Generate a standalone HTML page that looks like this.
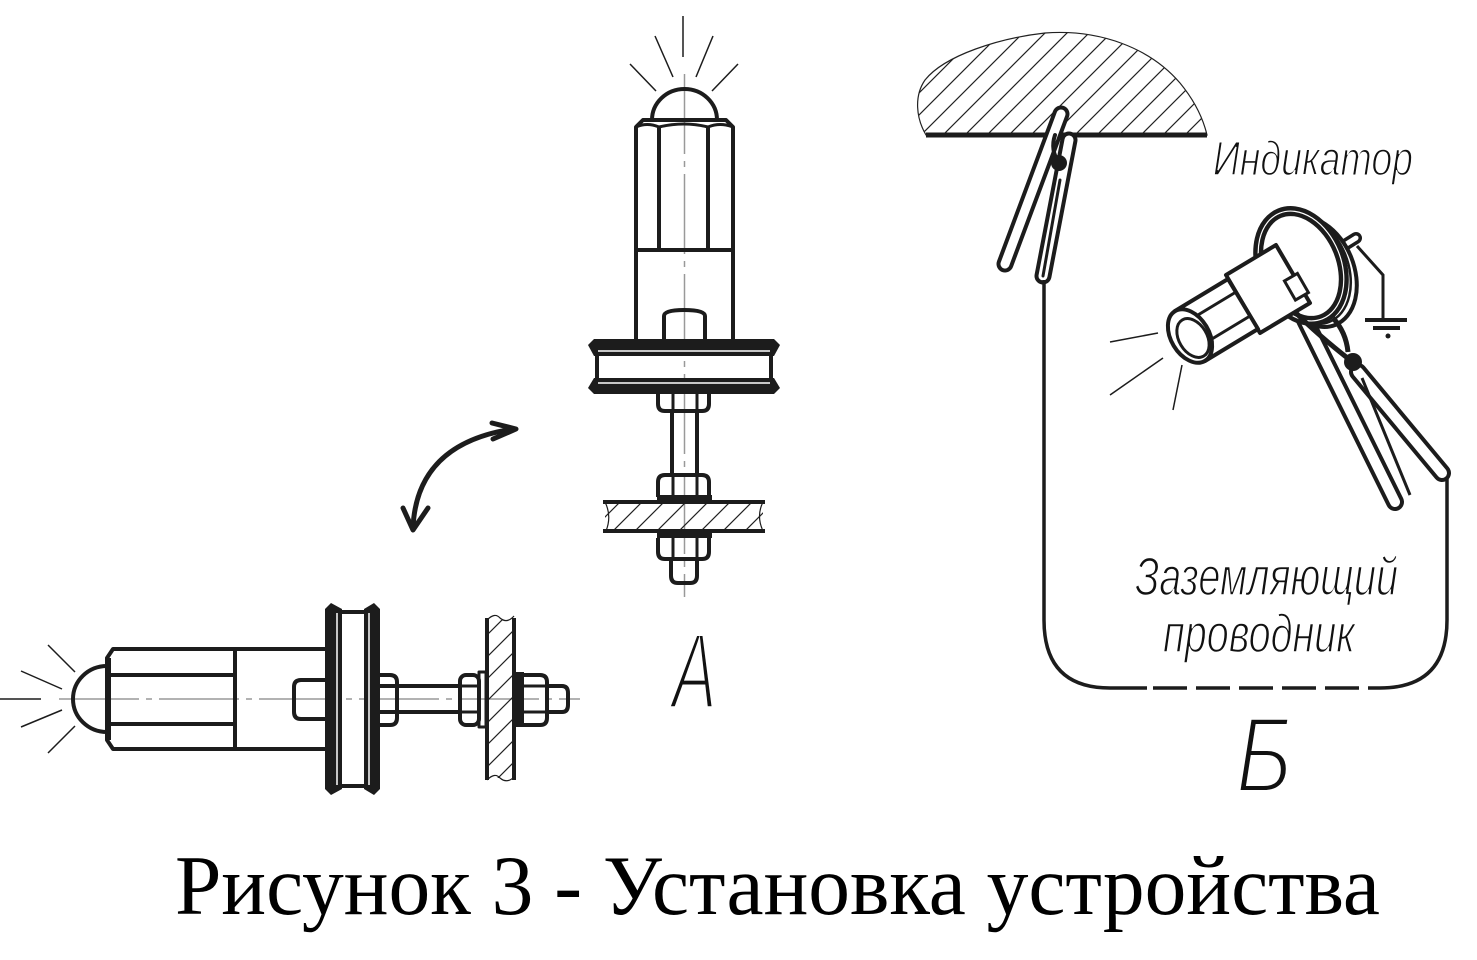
<!DOCTYPE html>
<html><head><meta charset="utf-8"><style>
html,body{margin:0;padding:0;background:#fff;}
svg{display:block;}
</style></head><body>
<svg xmlns="http://www.w3.org/2000/svg" width="1477" height="960" viewBox="0 0 1477 960">
<defs>
<pattern id="hat" patternUnits="userSpaceOnUse" width="22" height="22">
<path d="M-3,3 L3,-3 M0,22 L22,0 M19,25 L25,19" stroke="#222" stroke-width="1.2" fill="none"/>
</pattern>
</defs>
<rect width="1477" height="960" fill="#fff"/>

<!-- ================= VIEW A (vertical) ================= -->
<line x1="684.5" y1="74" x2="684.5" y2="597" stroke="#999" stroke-width="1.5" stroke-dasharray="80,7,6,7"/>
<g stroke="#1c1c1c" stroke-width="1.5">
<line x1="683" y1="16" x2="683" y2="57"/>
<line x1="655" y1="36" x2="673" y2="77"/>
<line x1="630" y1="64" x2="656" y2="91"/>
<line x1="713" y1="36" x2="696" y2="77"/>
<line x1="738" y1="64" x2="712" y2="91"/>
</g>
<g fill="none" stroke="#1c1c1c" stroke-width="4" stroke-linejoin="round">
<path d="M652,120 A32.5,31 0 0 1 717,120"/>
<path d="M636,340 L636,127 L643,120 L726,120 L733,127 L733,340"/>
<path d="M636,127 Q647,122 659,127 Q684,121 708,127 Q720,122 733,127" stroke-width="3"/>
<line x1="659" y1="126" x2="659" y2="250"/>
<line x1="708" y1="126" x2="708" y2="250"/>
<line x1="636" y1="250" x2="733" y2="250"/>
<path d="M664,341 L664,316 Q664,310 684,310 Q705,310 705,316 L705,341"/>
<!-- nut 1 -->
<path d="M658,394 L658,404 Q658,411 665,411 L702,411 Q709,411 709,404 L709,394"/>
<line x1="673" y1="394" x2="673" y2="411" stroke-width="3"/>
<line x1="697" y1="394" x2="697" y2="411" stroke-width="3"/>
<!-- shaft -->
<line x1="672" y1="411" x2="672" y2="475"/>
<line x1="697" y1="411" x2="697" y2="475"/>
<!-- nut 2 -->
<path d="M658,497 L658,482 Q658,475 665,475 L702,475 Q709,475 709,482 L709,497"/>
<line x1="673" y1="477" x2="673" y2="497" stroke-width="3"/>
<line x1="697" y1="477" x2="697" y2="497" stroke-width="3"/>
<!-- nut 3 -->
<path d="M658,538 L658,552 Q658,559 665,559 L702,559 Q709,559 709,552 L709,538"/>
<line x1="673" y1="538" x2="673" y2="559" stroke-width="3"/>
<line x1="697" y1="538" x2="697" y2="559" stroke-width="3"/>
<path d="M671,559 L671,576 Q671,583 678,583 L690,583 Q697,583 697,576 L697,559"/>
</g>
<!-- flange A -->
<g fill="#1c1c1c" stroke="none">
<polygon points="588,345 594,339 774,339 780,345 774,356 594,356"/>
<rect x="595" y="355" width="4" height="25"/>
<rect x="769" y="355" width="4" height="25"/>
<polygon points="594,378 774,378 780,388 774,394 594,394 588,388"/>
<rect x="657" y="495" width="55" height="8"/>
<rect x="657" y="530" width="55" height="8"/>
</g>
<line x1="598" y1="351" x2="770" y2="351" stroke="#fff" stroke-width="1.5"/>
<line x1="598" y1="383" x2="770" y2="383" stroke="#fff" stroke-width="1.5"/>
<!-- plate A -->
<rect x="605" y="503" width="158" height="27" fill="url(#hat)"/>
<g stroke="#1c1c1c" fill="none">
<line x1="603" y1="502" x2="765" y2="502" stroke-width="4"/>
<line x1="603" y1="531" x2="765" y2="531" stroke-width="4"/>
<path d="M605,502 Q612,516 606,531" stroke-width="1.2"/>
<path d="M763,502 Q756,516 763,531" stroke-width="1.2"/>
</g>

<!-- ================= horizontal view ================= -->
<line x1="59" y1="699" x2="580" y2="699" stroke="#999" stroke-width="1.5" stroke-dasharray="80,7,6,7"/>
<g stroke="#1c1c1c" stroke-width="1.5">
<line x1="0" y1="699" x2="41" y2="699"/>
<line x1="21" y1="671" x2="62" y2="689"/>
<line x1="48" y1="645" x2="75" y2="672"/>
<line x1="21" y1="727" x2="62" y2="710"/>
<line x1="48" y1="753" x2="75" y2="726"/>
</g>
<g fill="none" stroke="#1c1c1c" stroke-width="4" stroke-linejoin="round">
<path d="M107,666 A34,33 0 0 0 107,732"/>
<path d="M325,649 L113,649 L107,658 L107,740 L113,749 L325,749"/>
<line x1="108" y1="658" x2="108" y2="740" stroke-width="6"/>
<line x1="109" y1="675" x2="235" y2="675"/>
<line x1="109" y1="724" x2="235" y2="724"/>
<line x1="235" y1="649" x2="235" y2="749"/>
<path d="M325,680 L301,680 Q294,680 294,687 L294,712 Q294,719 301,719 L325,719"/>
<path d="M380,675 L390,675 Q397,675 397,682 L397,718 Q397,725 390,725 L380,725"/>
<line x1="380" y1="686" x2="460" y2="686"/>
<line x1="380" y1="712" x2="460" y2="712"/>
<rect x="460" y="675" width="19" height="50" rx="6"/>
<line x1="460" y1="686" x2="479" y2="686" stroke-width="3"/>
<line x1="460" y1="712" x2="479" y2="712" stroke-width="3"/>
<rect x="479" y="672" width="7" height="55" stroke-width="3"/>
<path d="M523,675 L540,675 Q547,675 547,682 L547,718 Q547,725 540,725 L523,725"/>
<line x1="524" y1="686" x2="547" y2="686" stroke-width="3"/>
<line x1="524" y1="712" x2="547" y2="712" stroke-width="3"/>
<path d="M547,686 L562,686 Q568,686 568,693 L568,705 Q568,712 562,712 L547,712"/>
</g>
<g fill="#1c1c1c" stroke="none">
<polygon points="331,603 325,609 325,789 331,795 342,789 342,609"/>
<rect x="341" y="610" width="25" height="4"/>
<rect x="341" y="784" width="25" height="4"/>
<polygon points="364,609 364,789 374,795 380,789 380,609 374,603"/>
<rect x="514" y="672" width="10" height="55"/>
</g>
<line x1="337" y1="613" x2="337" y2="785" stroke="#fff" stroke-width="1.5"/>
<line x1="369" y1="613" x2="369" y2="785" stroke="#fff" stroke-width="1.5"/>
<rect x="488" y="620" width="25" height="158" fill="url(#hat)"/>
<g stroke="#1c1c1c" fill="none">
<line x1="487" y1="618" x2="487" y2="780" stroke-width="4"/>
<line x1="514" y1="618" x2="514" y2="780" stroke-width="4"/>
<path d="M487,620 Q495,612 500,618 Q507,624 514,616" stroke-width="1.2"/>
<path d="M487,780 Q495,772 500,778 Q507,784 514,777" stroke-width="1.2"/>
</g>

<!-- arrow -->
<g fill="none" stroke="#1c1c1c" stroke-width="5" stroke-linecap="round" stroke-linejoin="round">
<path d="M413,528 C415,480 440,440 513,429"/>
<path d="M492,423 L516,429 L493,439"/>
<path d="M403,508 L413,530 L428,508"/>
</g>

<!-- label A -->
<text transform="translate(672,708) scale(0.62,1)" font-family="Liberation Sans, sans-serif" font-style="italic" font-size="108" fill="#111" stroke="#fff" stroke-width="4">А</text>

<!-- ================= VIEW Б ================= -->
<path d="M926,135 C916,118 914,96 925,80 C945,55 1000,38 1045,33 C1100,29 1150,48 1180,83 C1194,100 1203,118 1207,135 Z" fill="url(#hat)" stroke="#222" stroke-width="1.2"/>
<line x1="926" y1="135" x2="1207" y2="135" stroke="#1c1c1c" stroke-width="5"/>

<!-- left clamp -->
<g fill="none" stroke-linecap="round">
<path d="M1061,114 L1005,264" stroke="#1c1c1c" stroke-width="17"/>
<path d="M1061,114 L1005,264" stroke="#fff" stroke-width="9"/>
<path d="M1069,140 L1043,276" stroke="#1c1c1c" stroke-width="17"/>
<path d="M1069,140 L1043,276" stroke="#fff" stroke-width="9"/>
<path d="M1060,180 L1043,276" stroke="#1c1c1c" stroke-width="3"/>
<path d="M1055,135 Q1050,150 1059,163" stroke="#1c1c1c" stroke-width="4"/>
</g>
<circle cx="1059" cy="163" r="8" fill="#1c1c1c"/>

<!-- wire -->
<g fill="none" stroke="#1c1c1c" stroke-width="3.5">
<path d="M1044,280 L1044,620 Q1044,688 1110,688 L1147,688"/>
<line x1="1153" y1="688" x2="1187" y2="688"/>
<line x1="1196" y1="688" x2="1230" y2="688"/>
<line x1="1239" y1="688" x2="1273" y2="688"/>
<line x1="1282" y1="688" x2="1316" y2="688"/>
<line x1="1325" y1="688" x2="1359" y2="688"/>
<path d="M1368,688 L1380,688 Q1447,688 1447,620 L1447,478"/>
</g>

<!-- indicator -->
<g stroke="#1c1c1c" fill="none">
<line x1="1110" y1="342" x2="1158" y2="333" stroke-width="1.5"/>
<line x1="1110" y1="395" x2="1163" y2="358" stroke-width="1.5"/>
<line x1="1173" y1="410" x2="1182" y2="365" stroke-width="1.5"/>
<!-- pin & ground -->
<path d="M1340,248 L1356,238" stroke-width="12" stroke-linecap="round"/>
<path d="M1340,248 L1356,238" stroke="#fff" stroke-width="5" stroke-linecap="round"/>
<path d="M1357,246 L1383,275 L1383,318" stroke-width="3"/>
<line x1="1365" y1="320" x2="1407" y2="320" stroke-width="4"/>
<line x1="1373" y1="328" x2="1400" y2="328" stroke-width="4"/>
<!-- clamp rods -->
<path d="M1305,320 L1395,502" stroke-width="18" stroke-linecap="round"/>
<path d="M1305,320 L1395,502" stroke="#fff" stroke-width="10" stroke-linecap="round"/>
<path d="M1358,372 L1442,473" stroke-width="18" stroke-linecap="round"/>
<path d="M1358,372 L1442,473" stroke="#fff" stroke-width="10" stroke-linecap="round"/>
<path d="M1362,378 L1410,495" stroke-width="3"/>
<!-- flange ring -->
<ellipse cx="1314" cy="272" rx="40" ry="57" transform="rotate(-22 1314 272)" stroke-width="4" fill="#fff"/>
<ellipse cx="1308" cy="269" rx="40" ry="57" transform="rotate(-22 1308 269)" stroke-width="2.5"/>
<ellipse cx="1301" cy="266" rx="40" ry="57" transform="rotate(-22 1301 266)" stroke-width="10" fill="#fff"/>
<ellipse cx="1301" cy="266" rx="40" ry="57" transform="rotate(-22 1301 266)" stroke="#fff" stroke-width="1.2"/>
<path d="M1295,312 Q1318,335 1350,360" stroke-width="5"/>
<path d="M1333,318 Q1346,332 1348,352" stroke-width="5"/>
<!-- body: cylinder -->
<polygon points="1226,275 1276,245 1310,303 1260,333" fill="#fff" stroke-width="4" stroke-linejoin="round"/>
<rect x="1289" y="276" width="15" height="22" transform="rotate(-30 1296 287)" fill="#fff" stroke-width="3"/>
<!-- body: hex -->
<polygon points="1175,311 1228,279 1258,329 1205,361" fill="#fff" stroke-width="4" stroke-linejoin="round"/>
<line x1="1183" y1="324" x2="1236" y2="292" stroke-width="3"/>
<line x1="1197" y1="348" x2="1250" y2="316" stroke-width="3"/>
<ellipse cx="1190" cy="336" rx="29" ry="19" transform="rotate(59 1190 336)" fill="#fff" stroke-width="4"/>
<ellipse cx="1193" cy="338" rx="21" ry="14" transform="rotate(59 1193 338)" stroke-width="3"/>
</g>
<circle cx="1353" cy="362" r="9" fill="#1c1c1c"/>
<circle cx="1388" cy="336" r="2.5" fill="#1c1c1c"/>

<!-- labels Б -->
<g font-family="Liberation Sans, sans-serif" font-style="italic" fill="#111" stroke="#fff" stroke-width="1.5">
<text x="1213" y="175" font-size="48" textLength="200" lengthAdjust="spacingAndGlyphs">Индикатор</text>
<text x="1135" y="595" font-size="54" textLength="263" lengthAdjust="spacingAndGlyphs">Заземляющий</text>
<text x="1163" y="652" font-size="54" textLength="192" lengthAdjust="spacingAndGlyphs">проводник</text>
</g>
<text transform="translate(1236,792) scale(0.8,1)" font-family="Liberation Sans, sans-serif" font-style="italic" font-size="108" fill="#111" stroke="#fff" stroke-width="4">Б</text>

<!-- title -->
<text x="175" y="914" font-family="Liberation Serif, serif" font-size="85" fill="#000" textLength="1205" lengthAdjust="spacingAndGlyphs">Рисунок 3 - Установка устройства</text>
</svg>
</body></html>
